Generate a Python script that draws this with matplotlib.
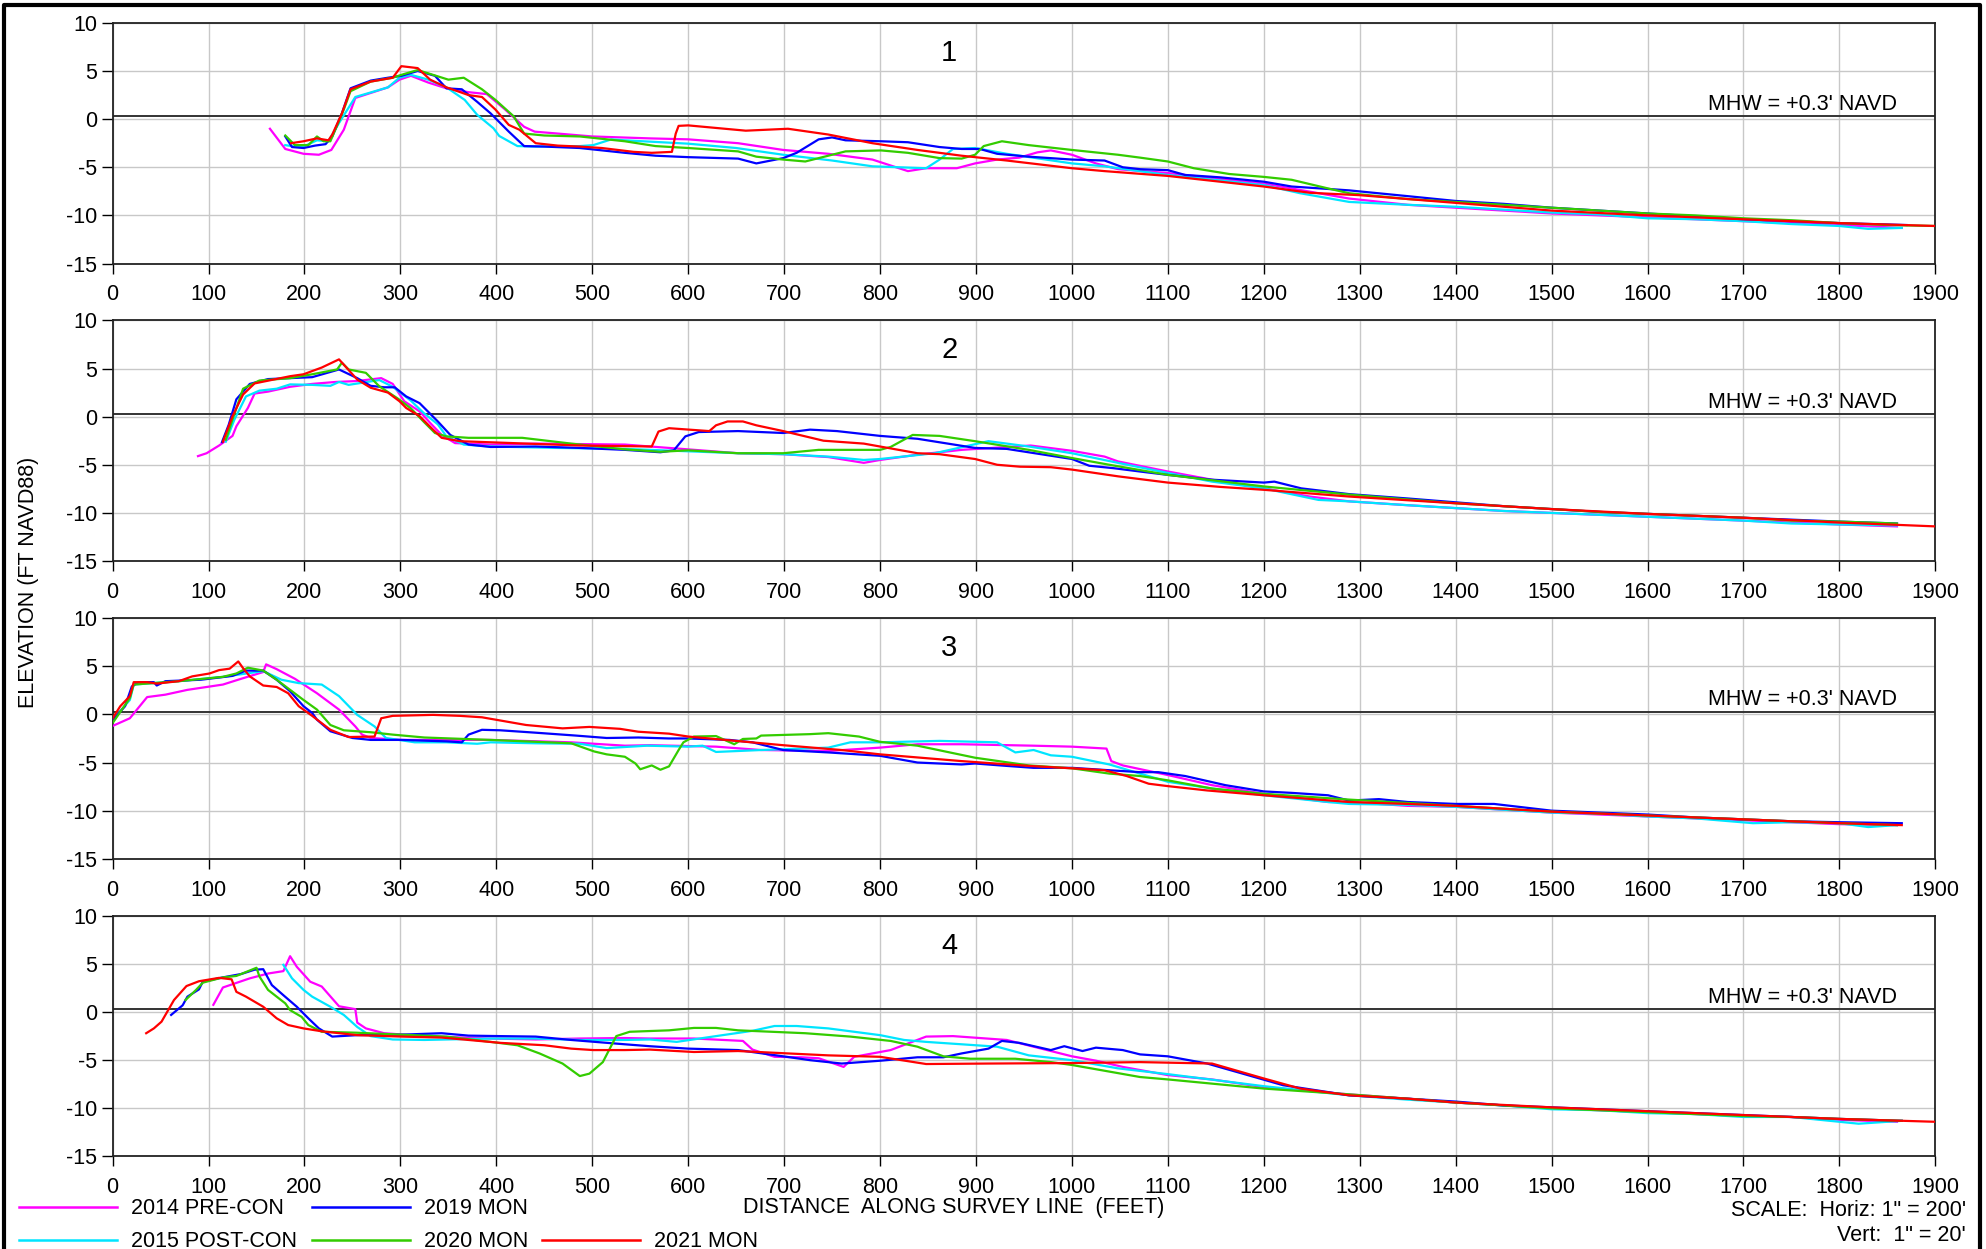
import matplotlib
matplotlib.use("Agg")
import matplotlib.pyplot as plt
from matplotlib.lines import Line2D
import numpy as np

plt.rcParams['font.family'] = ['Liberation Sans', 'DejaVu Sans']
plt.rcParams['axes.unicode_minus'] = False

labels = ["2014 PRE-CON", "2015 POST-CON", "2019 MON", "2020 MON", "2021 MON"]
colors = ["#ff00ff", "#00e5ff", "#0000ff", "#33cc00", "#ff0000"]
panel_names = ["1", "2", "3", "4"]
mhw = 0.3
xticks = np.arange(0, 2000, 100)
yticks = np.arange(-15, 11, 5)

# ---- profile 1 : (distance, elevation) ----
p1_pre = [(164,-1.0),(180,-3.1),(199,-3.6),(215,-3.7),(228,-3.2),(241,-1.1),(253,2.2),(287,3.3),(299,4.1),(311,4.5),(329,3.8),(348,3.2),(371,2.8),(390,2.6),(408,1.1),(429,-0.8),(440,-1.3),(500,-1.8),(560,-2.0),(600,-2.1),(652,-2.5),(699,-3.2),(746,-3.6),(792,-4.2),(829,-5.4),(848,-5.1),(880,-5.1),(899,-4.6),(922,-4.2),(945,-4.0),(964,-3.45),(978,-3.25),(1000,-3.7),(1025,-4.6),(1048,-5.2),(1100,-5.6),(1200,-6.7),(1289,-8.25),(1350,-8.9),(1400,-9.2),(1450,-9.5),(1500,-9.8),(1550,-10.0),(1600,-10.2),(1650,-10.4),(1700,-10.6),(1750,-10.8),(1800,-11.0),(1865,-11.3)]
p1_post = [(180,-2.7),(190,-2.85),(199,-2.85),(213,-2.2),(225,-2.3),(236,-0.4),(253,2.3),(287,3.3),(299,4.3),(311,4.6),(329,4.1),(348,3.3),(367,2.0),(380,0.45),(397,-0.95),(403,-1.75),(422,-2.8),(441,-2.85),(487,-2.8),(501,-2.7),(520,-2.1),(534,-2.2),(600,-2.55),(650,-3.0),(699,-3.7),(750,-4.3),(792,-4.9),(848,-5.1),(862,-4.2),(876,-3.1),(899,-3.0),(932,-3.6),(1000,-4.6),(1034,-4.9),(1100,-5.8),(1200,-6.85),(1238,-7.7),(1289,-8.6),(1350,-8.9),(1400,-9.1),(1500,-9.7),(1550,-9.9),(1600,-10.3),(1650,-10.4),(1700,-10.6),(1750,-10.9),(1800,-11.1),(1830,-11.4),(1865,-11.3)]
p1_2019 = [(180,-1.8),(187,-2.9),(199,-3.0),(211,-2.75),(222,-2.6),(229,-1.8),(239,0.6),(248,3.2),(269,4.0),(287,4.3),(301,4.5),(318,5.0),(336,4.5),(348,3.2),(364,3.1),(380,1.8),(394,0.6),(413,-1.3),(429,-2.8),(450,-2.85),(487,-3.0),(534,-3.5),(566,-3.8),(600,-3.95),(652,-4.1),(671,-4.6),(699,-4.05),(713,-3.5),(736,-2.1),(750,-1.9),(764,-2.2),(801,-2.3),(829,-2.4),(862,-2.9),(885,-3.1),(904,-3.1),(922,-3.6),(955,-3.9),(1000,-4.2),(1034,-4.3),(1053,-5.0),(1071,-5.2),(1100,-5.3),(1118,-5.8),(1155,-6.05),(1200,-6.5),(1229,-7.0),(1289,-7.4),(1350,-8.0),(1400,-8.5),(1450,-8.8),(1500,-9.2),(1550,-9.5),(1600,-9.8),(1650,-10.1),(1700,-10.4),(1750,-10.6),(1800,-10.8),(1870,-11.0)]
p1_2020 = [(180,-1.7),(190,-2.7),(204,-2.7),(213,-1.8),(220,-2.3),(227,-2.3),(241,1.0),(248,2.9),(269,3.9),(292,4.3),(301,4.6),(318,5.1),(334,4.6),(350,4.1),(366,4.3),(385,3.1),(399,2.0),(418,0.3),(429,-1.5),(450,-1.7),(487,-1.8),(534,-2.3),(566,-2.8),(600,-3.0),(652,-3.35),(671,-3.9),(699,-4.2),(722,-4.4),(736,-4.05),(764,-3.35),(801,-3.25),(829,-3.5),(862,-4.05),(885,-4.1),(899,-3.7),(908,-2.8),(927,-2.3),(955,-2.7),(1000,-3.2),(1048,-3.7),(1071,-4.0),(1100,-4.4),(1127,-5.1),(1164,-5.7),(1200,-6.0),(1229,-6.3),(1267,-7.2),(1289,-7.7),(1350,-8.3),(1400,-8.6),(1450,-8.9),(1500,-9.2),(1550,-9.5),(1600,-9.8),(1650,-10.0),(1700,-10.3),(1750,-10.5),(1800,-10.8),(1850,-11.0),(1900,-11.1)]
p1_2021 = [(186,-2.5),(199,-2.3),(213,-2.0),(225,-2.2),(229,-1.6),(239,0.6),(248,3.1),(269,3.9),(292,4.3),(301,5.5),(318,5.3),(331,4.1),(348,3.3),(371,2.5),(385,2.3),(399,1.0),(413,-0.6),(424,-1.1),(441,-2.5),(464,-2.75),(487,-2.85),(510,-3.0),(543,-3.4),(562,-3.5),(583,-3.4),(587,-1.5),(590,-0.7),(600,-0.65),(660,-1.2),(704,-1.0),(746,-1.6),(792,-2.5),(839,-3.2),(885,-3.8),(932,-4.3),(1000,-5.1),(1034,-5.4),(1100,-5.9),(1200,-7.0),(1248,-7.65),(1300,-7.9),(1400,-8.7),(1500,-9.5),(1600,-10.0),(1700,-10.4),(1800,-10.8),(1900,-11.1)]

# ---- profile 2 ----
p2_pre = [(89,-4.1),(98,-3.8),(111,-3.0),(125,-2.0),(129,-1.0),(141,0.9),(148,2.4),(162,2.6),(185,3.1),(208,3.4),(232,3.6),(255,3.7),(280,4.0),(292,3.4),(304,1.6),(320,0.55),(331,-0.65),(343,-1.9),(357,-2.75),(394,-2.9),(441,-2.8),(534,-2.9),(560,-3.1),(600,-3.4),(652,-3.8),(699,-3.9),(746,-4.2),(783,-4.8),(800,-4.5),(839,-3.95),(885,-3.45),(957,-3.0),(1000,-3.55),(1034,-4.15),(1048,-4.65),(1100,-5.7),(1146,-6.55),(1200,-7.45),(1248,-8.3),(1289,-8.8),(1350,-9.2),(1400,-9.5),(1450,-9.8),(1500,-10.0),(1550,-10.2),(1600,-10.4),(1650,-10.6),(1700,-10.8),(1750,-11.0),(1800,-11.2),(1860,-11.4)]
p2_post = [(118,-2.6),(127,-0.3),(139,2.1),(153,2.7),(171,2.9),(185,3.35),(208,3.3),(227,3.2),(236,3.6),(246,3.3),(278,3.8),(292,3.1),(311,1.65),(324,0.4),(339,-0.8),(348,-2.05),(366,-2.9),(394,-3.1),(464,-3.25),(534,-3.35),(560,-3.45),(600,-3.6),(652,-3.8),(699,-3.9),(746,-4.15),(783,-4.5),(800,-4.4),(857,-3.8),(913,-2.55),(955,-3.1),(1000,-3.8),(1048,-4.8),(1100,-5.85),(1146,-6.75),(1200,-7.45),(1257,-8.65),(1289,-8.8),(1350,-9.2),(1400,-9.5),(1450,-9.8),(1500,-10.0),(1550,-10.2),(1600,-10.4),(1650,-10.6),(1700,-10.8),(1750,-11.1),(1800,-11.2),(1860,-11.3)]
p2_2019 = [(114,-2.65),(121,-0.85),(129,1.8),(143,3.4),(162,3.9),(208,4.1),(236,4.9),(255,4.0),(269,3.2),(283,3.05),(294,3.05),(306,2.1),(320,1.4),(339,-0.5),(352,-1.9),(371,-2.9),(394,-3.15),(441,-3.1),(487,-3.25),(534,-3.45),(571,-3.7),(585,-3.5),(597,-2.05),(611,-1.6),(652,-1.5),(699,-1.7),(727,-1.35),(755,-1.5),(800,-2.0),(839,-2.3),(899,-3.25),(932,-3.35),(1000,-4.4),(1018,-5.1),(1043,-5.35),(1071,-5.7),(1100,-6.05),(1146,-6.55),(1200,-6.85),(1211,-6.75),(1239,-7.45),(1289,-8.05),(1350,-8.5),(1400,-8.9),(1450,-9.3),(1500,-9.6),(1550,-9.9),(1600,-10.1),(1650,-10.3),(1700,-10.5),(1750,-10.7),(1800,-10.9),(1860,-11.1)]
p2_2020 = [(118,-2.4),(125,-0.3),(136,2.9),(153,3.75),(185,4.0),(208,4.4),(234,4.9),(239,5.6),(246,4.9),(264,4.55),(278,3.15),(297,1.9),(311,0.85),(324,-0.5),(336,-1.7),(348,-2.05),(371,-2.2),(427,-2.2),(478,-2.8),(534,-3.4),(571,-3.65),(600,-3.5),(652,-3.8),(699,-3.8),(736,-3.45),(800,-3.45),(811,-3.15),(834,-1.9),(862,-2.0),(899,-2.55),(955,-3.45),(1000,-4.3),(1039,-5.0),(1100,-6.05),(1200,-7.25),(1289,-8.1),(1350,-8.6),(1400,-9.0),(1450,-9.3),(1500,-9.6),(1550,-9.9),(1600,-10.1),(1650,-10.3),(1700,-10.5),(1750,-10.8),(1800,-10.9),(1860,-11.1)]
p2_2021 = [(115,-2.6),(125,0.05),(136,2.3),(148,3.45),(185,4.2),(199,4.4),(218,5.1),(236,5.95),(255,3.85),(269,3.0),(287,2.5),(299,1.6),(306,0.9),(320,0.05),(334,-1.35),(343,-2.2),(362,-2.55),(418,-2.75),(487,-3.0),(562,-3.1),(569,-1.55),(580,-1.2),(622,-1.5),(629,-0.9),(641,-0.5),(657,-0.5),(671,-0.9),(699,-1.5),(741,-2.5),(783,-2.8),(839,-3.8),(862,-3.9),(899,-4.4),(922,-5.0),(946,-5.2),(978,-5.25),(1000,-5.5),(1048,-6.2),(1100,-6.85),(1155,-7.3),(1200,-7.6),(1289,-8.3),(1400,-9.0),(1500,-9.6),(1600,-10.1),(1700,-10.5),(1800,-11.0),(1900,-11.4)]

# ---- profile 3 ----
p3_pre = [(0,-1.2),(18,-0.4),(36,1.8),(55,2.05),(78,2.55),(115,3.1),(134,3.7),(157,4.4),(160,5.2),(171,4.7),(190,3.7),(213,2.2),(236,0.5),(253,-1.25),(260,-2.1),(269,-2.45),(301,-2.65),(394,-2.65),(478,-2.9),(534,-3.25),(560,-3.2),(629,-3.35),(676,-3.7),(746,-3.8),(800,-3.45),(839,-3.1),(885,-3.1),(960,-3.25),(1000,-3.35),(1036,-3.55),(1041,-4.85),(1053,-5.3),(1100,-6.3),(1146,-7.35),(1200,-8.25),(1267,-9.1),(1289,-9.1),(1350,-9.5),(1400,-9.6),(1450,-9.9),(1500,-10.2),(1550,-10.4),(1600,-10.6),(1650,-10.8),(1700,-11.0),(1750,-11.2),(1800,-11.4),(1860,-11.5)]
p3_post = [(0,-0.55),(18,1.5),(22,3.1),(69,3.45),(115,3.9),(143,4.3),(157,4.5),(176,3.6),(194,3.25),(218,3.1),(236,1.9),(255,-0.05),(273,-1.25),(285,-2.45),(315,-2.9),(348,-2.9),(380,-3.05),(394,-2.9),(441,-3.0),(487,-3.05),(515,-3.5),(557,-3.25),(600,-3.35),(615,-3.25),(629,-3.9),(676,-3.7),(746,-3.45),(769,-2.9),(800,-2.9),(862,-2.75),(922,-2.9),(941,-3.95),(960,-3.7),(978,-4.25),(1000,-4.4),(1039,-5.2),(1071,-6.15),(1100,-7.0),(1146,-7.7),(1200,-8.4),(1267,-9.1),(1289,-9.3),(1350,-9.4),(1400,-9.6),(1450,-9.9),(1500,-10.2),(1550,-10.3),(1600,-10.6),(1650,-10.8),(1710,-11.3),(1750,-11.2),(1800,-11.3),(1830,-11.7),(1860,-11.5)]
p3_2019 = [(0,-0.6),(13,0.85),(20,2.9),(27,3.35),(43,3.35),(46,3.0),(55,3.45),(92,3.6),(125,4.0),(139,4.55),(157,4.55),(171,3.6),(185,2.4),(199,0.85),(208,0.15),(213,-0.55),(227,-1.75),(250,-2.45),(269,-2.65),(301,-2.65),(348,-2.8),(364,-2.9),(371,-2.1),(385,-1.6),(404,-1.65),(441,-1.9),(483,-2.2),(515,-2.45),(548,-2.4),(580,-2.5),(600,-2.5),(643,-2.65),(667,-2.9),(699,-3.7),(746,-3.95),(800,-4.3),(839,-5.0),(885,-5.2),(899,-5.1),(932,-5.35),(960,-5.55),(1000,-5.55),(1039,-5.8),(1071,-6.0),(1090,-6.0),(1118,-6.4),(1160,-7.35),(1200,-8.0),(1229,-8.15),(1267,-8.4),(1289,-8.95),(1320,-8.8),(1350,-9.1),(1400,-9.3),(1440,-9.3),(1500,-10.0),(1550,-10.2),(1600,-10.4),(1650,-10.7),(1700,-10.9),(1750,-11.1),(1800,-11.2),(1865,-11.3)]
p3_2020 = [(0,-0.9),(18,1.7),(22,3.1),(69,3.45),(115,3.9),(129,4.25),(141,4.85),(157,4.55),(171,3.6),(185,2.55),(199,1.5),(213,0.5),(227,-1.1),(241,-1.65),(269,-1.85),(292,-2.1),(325,-2.4),(394,-2.65),(478,-3.0),(502,-3.85),(515,-4.15),(534,-4.4),(545,-5.1),(550,-5.7),(562,-5.3),(571,-5.75),(580,-5.4),(590,-3.7),(595,-2.9),(606,-2.3),(629,-2.25),(648,-3.1),(657,-2.55),(671,-2.5),(676,-2.2),(727,-2.05),(746,-1.95),(778,-2.3),(800,-2.85),(839,-3.25),(899,-4.5),(955,-5.3),(1000,-5.6),(1039,-6.15),(1071,-6.4),(1100,-6.85),(1146,-7.7),(1200,-8.25),(1289,-8.85),(1350,-9.2),(1400,-9.5),(1450,-9.8),(1500,-10.1),(1550,-10.3),(1600,-10.5),(1650,-10.7),(1700,-10.9),(1750,-11.1),(1800,-11.3),(1860,-11.5)]
p3_2021 = [(0,-0.4),(8,0.85),(18,1.9),(22,3.35),(36,3.35),(46,3.2),(69,3.45),(83,3.95),(101,4.25),(111,4.6),(122,4.75),(131,5.5),(136,4.8),(143,3.95),(157,3.0),(171,2.85),(183,2.2),(194,0.85),(208,-0.15),(227,-1.6),(246,-2.35),(273,-2.3),(280,-0.4),(292,-0.15),(334,-0.05),(362,-0.15),(385,-0.3),(431,-1.1),(469,-1.45),(497,-1.3),(529,-1.5),(548,-1.8),(580,-2.0),(600,-2.3),(699,-3.2),(760,-3.7),(800,-4.15),(885,-4.85),(955,-5.35),(1000,-5.6),(1034,-5.8),(1057,-6.4),(1080,-7.2),(1100,-7.45),(1141,-7.9),(1200,-8.4),(1289,-9.1),(1350,-9.3),(1400,-9.5),(1500,-10.1),(1600,-10.5),(1700,-10.9),(1800,-11.3),(1865,-11.5)]

# ---- profile 4 ----
p4_pre = [(105,0.75),(115,2.55),(143,3.5),(162,4.0),(178,4.25),(185,5.8),(192,4.7),(206,3.15),(218,2.65),(236,0.6),(253,0.3),(255,-1.1),(264,-1.7),(283,-2.2),(325,-2.5),(394,-2.75),(441,-2.85),(487,-2.75),(534,-2.7),(560,-2.75),(606,-2.75),(657,-3.0),(667,-3.9),(690,-4.65),(718,-4.7),(736,-4.8),(762,-5.7),(773,-4.65),(811,-3.95),(848,-2.55),(876,-2.5),(932,-2.9),(964,-3.7),(1000,-4.6),(1025,-5.05),(1053,-5.7),(1100,-6.55),(1146,-7.0),(1200,-7.8),(1289,-8.55),(1350,-9.0),(1400,-9.4),(1450,-9.7),(1500,-10.0),(1550,-10.2),(1600,-10.4),(1650,-10.6),(1700,-10.8),(1750,-10.9),(1800,-11.2),(1860,-11.4)]
p4_post = [(178,4.9),(187,3.5),(199,2.3),(208,1.6),(227,0.55),(241,-0.3),(255,-1.55),(269,-2.5),(292,-2.85),(325,-2.9),(348,-2.85),(394,-2.75),(441,-2.75),(487,-2.9),(534,-2.9),(560,-2.85),(588,-3.1),(629,-2.5),(667,-1.95),(690,-1.45),(713,-1.45),(746,-1.7),(800,-2.4),(825,-2.9),(848,-3.1),(885,-3.35),(922,-3.6),(955,-4.5),(1000,-5.0),(1048,-5.85),(1100,-6.45),(1164,-7.25),(1200,-7.7),(1289,-8.65),(1350,-9.1),(1400,-9.4),(1450,-9.7),(1500,-10.1),(1550,-10.2),(1600,-10.5),(1650,-10.6),(1700,-10.9),(1750,-10.9),(1820,-11.6),(1865,-11.3)]
p4_2019 = [(61,-0.3),(73,0.7),(78,1.6),(90,2.35),(94,3.15),(115,3.6),(134,3.95),(148,4.4),(157,4.45),(166,2.8),(178,1.75),(192,0.55),(204,-0.65),(215,-1.7),(229,-2.55),(255,-2.4),(301,-2.35),(343,-2.2),(371,-2.45),(404,-2.5),(441,-2.55),(478,-2.9),(534,-3.35),(560,-3.55),(600,-3.8),(652,-3.95),(699,-4.6),(727,-5.0),(760,-5.35),(801,-5.05),(839,-4.7),(866,-4.7),(885,-4.3),(913,-3.8),(927,-3.0),(945,-3.2),(978,-3.95),(992,-3.55),(1011,-4.05),(1025,-3.7),(1053,-3.95),(1071,-4.4),(1100,-4.6),(1141,-5.35),(1178,-6.4),(1220,-7.6),(1289,-8.65),(1350,-9.0),(1400,-9.3),(1450,-9.7),(1500,-9.9),(1550,-10.1),(1600,-10.3),(1650,-10.5),(1700,-10.7),(1750,-10.9),(1800,-11.1),(1865,-11.3)]
p4_2020 = [(76,1.25),(87,2.3),(94,3.05),(115,3.6),(129,3.75),(150,4.6),(153,3.7),(162,2.3),(171,1.6),(180,0.9),(185,0.2),(197,-0.5),(204,-1.35),(218,-2.05),(255,-2.15),(301,-2.35),(348,-2.55),(394,-3.1),(422,-3.45),(445,-4.3),(469,-5.35),(487,-6.65),(497,-6.4),(511,-5.2),(525,-2.5),(539,-2.05),(580,-1.9),(606,-1.65),(629,-1.65),(652,-1.9),(722,-2.2),(769,-2.55),(811,-3.0),(839,-3.6),(866,-4.6),(894,-4.85),(941,-4.85),(978,-5.2),(1000,-5.5),(1071,-6.75),(1100,-7.0),(1200,-7.95),(1289,-8.55),(1350,-9.0),(1400,-9.4),(1450,-9.7),(1500,-10.0),(1550,-10.2),(1600,-10.4),(1650,-10.6),(1700,-10.8),(1750,-10.9),(1800,-11.1),(1865,-11.3)]
p4_2021 = [(35,-2.2),(43,-1.7),(51,-1.0),(64,1.25),(77,2.7),(90,3.2),(111,3.55),(124,3.4),(129,2.1),(139,1.6),(157,0.55),(171,-0.65),(183,-1.35),(199,-1.7),(218,-2.0),(255,-2.4),(301,-2.55),(343,-2.65),(371,-2.9),(404,-3.2),(450,-3.45),(478,-3.8),(501,-3.95),(534,-3.95),(560,-3.9),(606,-4.15),(652,-4.05),(746,-4.5),(800,-4.65),(848,-5.4),(913,-5.35),(1000,-5.3),(1071,-5.2),(1146,-5.35),(1200,-6.9),(1238,-7.95),(1289,-8.65),(1350,-9.0),(1400,-9.4),(1500,-9.9),(1600,-10.3),(1700,-10.7),(1800,-11.1),(1900,-11.4)]

panels = [
    [p1_pre, p1_post, p1_2019, p1_2020, p1_2021],
    [p2_pre, p2_post, p2_2019, p2_2020, p2_2021],
    [p3_pre, p3_post, p3_2019, p3_2020, p3_2021],
    [p4_pre, p4_post, p4_2019, p4_2020, p4_2021],
]

FS = 15.5

fig = plt.figure(figsize=(19.86, 12.49), dpi=100)

ax_left, ax_w, ax_h = 0.0567, 0.9178, 0.1927
bottoms = [0.7890, 0.5508, 0.3124, 0.0741]

for k, series in enumerate(panels):
    ax = fig.add_axes([ax_left, bottoms[k], ax_w, ax_h])
    ax.set_xlim(0, 1900)
    ax.set_ylim(-15, 10)
    ax.set_xticks(xticks)
    ax.set_yticks(yticks)
    ax.grid(True, color="#c8c8c8", lw=1.0)
    ax.set_axisbelow(True)
    ax.axhline(mhw, color="#333333", lw=1.4, zorder=2)
    for data, c in zip(series, colors):
        arr = np.array(data)
        ax.plot(arr[:, 0], arr[:, 1], color=c, lw=1.6, zorder=3)
    for s in ax.spines.values():
        s.set_color("#222222")
        s.set_linewidth(1.3)
    ax.tick_params(axis="x", direction="out", length=7, width=1, pad=8, labelsize=FS)
    ax.tick_params(axis="y", direction="out", length=8, width=1, pad=3, labelsize=FS)
    ax.text(872, 6.9, panel_names[k], ha="center", va="center", fontsize=21)
    ax.text(1860, 1.5, "MHW = +0.3' NAVD", ha="right", va="center", fontsize=FS)

fig.text(0.0141, 0.5336, "ELEVATION (FT NAVD88)", rotation=90, ha="center", va="center", fontsize=FS)
fig.text(0.4804, 0.0336, "DISTANCE  ALONG SURVEY LINE  (FEET)", ha="center", va="center", fontsize=FS)
fig.text(0.990, 0.0305, "SCALE:  Horiz: 1\" = 200'", ha="right", va="center", fontsize=FS)
fig.text(0.990, 0.0110, "Vert:  1\" = 20'", ha="right", va="center", fontsize=FS)

# legend, drawn by hand like the original CAD sheet
W, H = 1986.0, 1249.0
leg_slots = [(0, 0), (0, 1), (1, 0), (1, 1), (2, 1)]
col_x = [19, 312, 542]
row_y = [1207, 1240]
for lab, c, (col, row) in zip(labels, colors, leg_slots):
    x0 = col_x[col] / W
    y0 = 1 - row_y[row] / H
    fig.add_artist(Line2D([x0, x0 + 98 / W], [y0, y0], color=c, lw=1.8, transform=fig.transFigure))
    fig.text(x0 + 112 / W, y0 - 0.001, lab, ha="left", va="center", fontsize=FS)

# sheet border
fig.add_artist(Line2D([4 / W, 4 / W, 1980 / W, 1980 / W], [-0.01, 1 - 5 / H, 1 - 5 / H, -0.01],
                      color="black", lw=3, transform=fig.transFigure))

fig.savefig("out.png", dpi=100)
